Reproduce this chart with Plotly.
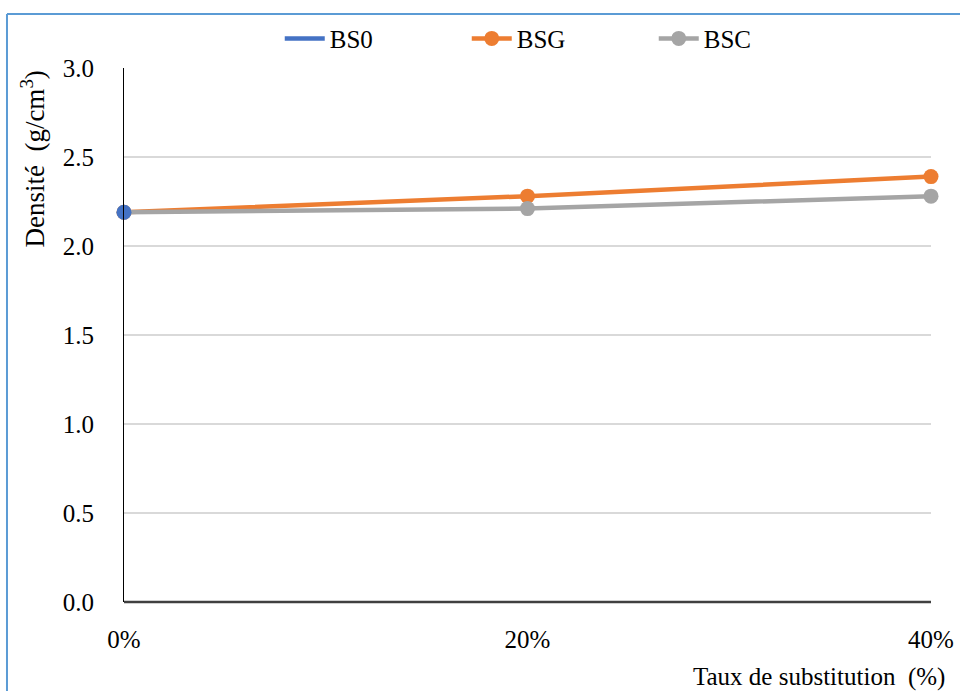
import plotly.graph_objects as go

# Substitution rates (%) and measured densities (g/cm3)
taux = [0, 20, 40]
tick_labels = ["0%", "20%", "40%"]
bs0 = [2.19]
bsg = [2.19, 2.28, 2.39]
bsc = [2.19, 2.21, 2.28]

BLUE = "#4472C4"
ORANGE = "#ED7D31"
GREY = "#A5A5A5"
FONT = "Liberation Serif"
FS = 25

fig = go.Figure()

# Reference concrete: single point, legend entry shown as a plain line
fig.add_trace(go.Scatter(x=taux[:1], y=bs0, name="BS0", mode="lines",
                         line=dict(color=BLUE, width=4.5), cliponaxis=False))
fig.add_trace(go.Scatter(x=taux, y=bsg, name="BSG", mode="lines+markers",
                         line=dict(color=ORANGE, width=4.5),
                         marker=dict(color=ORANGE, size=15), cliponaxis=False))
fig.add_trace(go.Scatter(x=taux, y=bsc, name="BSC", mode="lines+markers",
                         line=dict(color=GREY, width=4.5),
                         marker=dict(color=GREY, size=15), cliponaxis=False))
fig.add_trace(go.Scatter(x=taux[:1], y=bs0, name="BS0", mode="markers",
                         marker=dict(color=BLUE, size=15), showlegend=False,
                         cliponaxis=False))

fig.update_layout(
    width=960, height=691,
    margin=dict(l=124, r=29, t=68, b=89, autoexpand=False),
    paper_bgcolor="white", plot_bgcolor="white",
    font=dict(family=FONT, size=FS, color="#000000"),
    showlegend=True,
    legend=dict(orientation="h", x=0.193, xanchor="left", y=1.055, yanchor="middle",
                font=dict(family=FONT, size=FS), itemwidth=40, traceorder="normal",
                entrywidth=132, entrywidthmode="pixels",
                bgcolor="rgba(0,0,0,0)"),
    xaxis=dict(range=[0, 40], tickvals=taux, ticktext=tick_labels,
               showgrid=False, zeroline=False, showline=False, automargin=False,
               ticks="", ticklabelstandoff=20,
               tickfont=dict(family=FONT, size=FS)),
    yaxis=dict(range=[0, 3.0], dtick=0.5, tickformat=".1f", automargin=False,
               showgrid=True, gridcolor="#D9D9D9", gridwidth=1.5,
               zeroline=False, showline=True, linecolor="#000000", linewidth=1,
               ticks="", ticklabelstandoff=24,
               tickfont=dict(family=FONT, size=FS)),
    annotations=[
        dict(text="Densité  (g/cm<sup>3</sup>)", xref="paper", yref="paper",
             x=-0.113, y=0.83, xanchor="center", yanchor="middle", textangle=-90,
             showarrow=False, font=dict(family=FONT, size=27)),
        dict(text="Taux de substitution  (%)", xref="paper", yref="paper",
             x=0.702, y=-0.14, xanchor="left", yanchor="middle",
             showarrow=False, font=dict(family=FONT, size=25)),
    ],
    shapes=[
        # horizontal axis line
        dict(type="line", xref="paper", yref="paper", x0=0, x1=1, y0=0, y1=0,
             line=dict(color="#404040", width=2.5), layer="above"),
        # chart frame edges
        dict(type="line", xref="paper", yref="paper", x0=-0.145, x1=-0.145, y0=-0.2, y1=1.101,
             line=dict(color="#5B9BD5", width=2)),
        dict(type="line", xref="paper", yref="paper", x0=-0.145, x1=1.1, y0=1.101, y1=1.101,
             line=dict(color="#5B9BD5", width=2)),
    ],
)

fig.write_html("out.html")
